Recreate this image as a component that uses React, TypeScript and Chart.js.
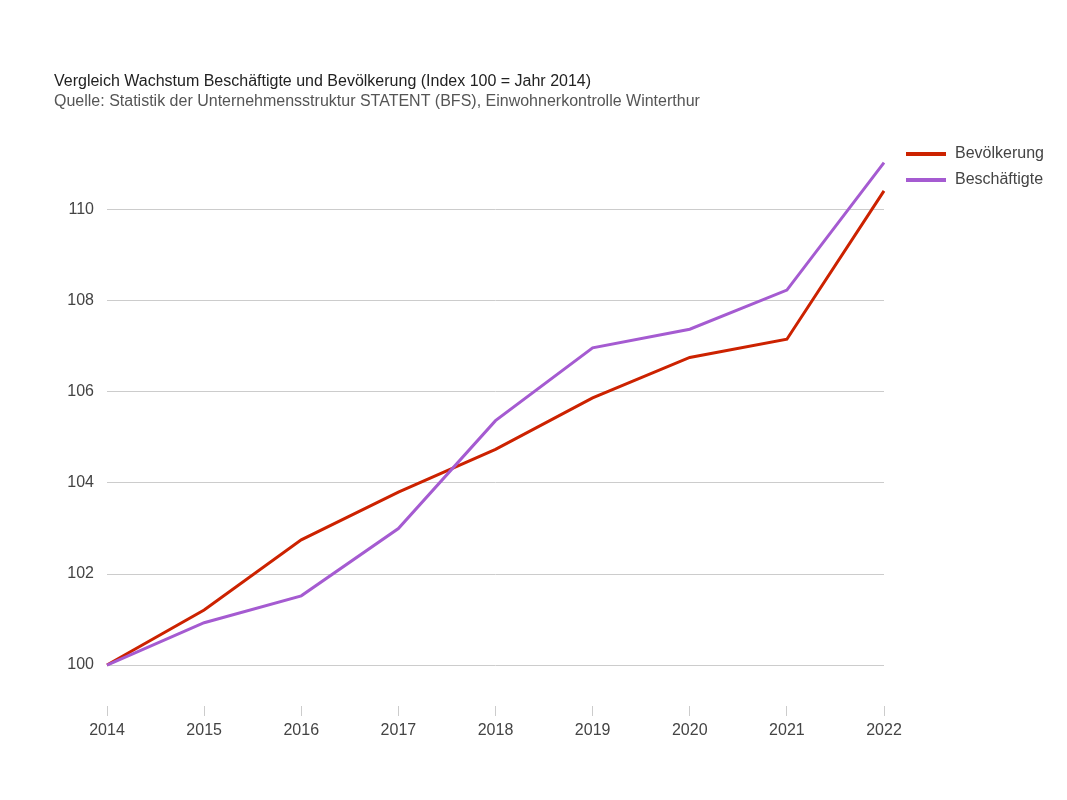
import { useEffect, useRef } from "react";
import { Chart, registerables } from "chart.js";

Chart.register(...registerables);

const years = ["2014", "2015", "2016", "2017", "2018", "2019", "2020", "2021", "2022"];
const bevoelkerung = [100, 101.21, 102.75, 103.8, 104.74, 105.87, 106.76, 107.16, 110.42];
const beschaeftigte = [100, 100.93, 101.52, 103.0, 105.37, 106.97, 107.38, 108.24, 111.04];
const yTicks = [100, 102, 104, 106, 108, 110];
const seriesLabels = ["Bevölkerung", "Beschäftigte"];
const seriesColors = ["#cc2200", "#a55bd1"];
const titleText = "Vergleich Wachstum Beschäftigte und Bevölkerung (Index 100 = Jahr 2014)";
const subtitleText = "Quelle: Statistik der Unternehmensstruktur STATENT (BFS), Einwohnerkontrolle Winterthur";

const FONT = "'Liberation Sans', Arial, sans-serif";

const sideLegend = {
  id: "sideLegend",
  afterDraw(chart: any) {
    const { ctx, chartArea } = chart;
    ctx.save();
    chart.data.datasets.forEach((ds: any, i: number) => {
      const y = chartArea.top + 20 + i * 26;
      const x0 = chartArea.right + 22;
      ctx.strokeStyle = ds.borderColor;
      ctx.lineWidth = 4;
      ctx.beginPath();
      ctx.moveTo(x0, y);
      ctx.lineTo(x0 + 40, y);
      ctx.stroke();
      ctx.fillStyle = "#444444";
      ctx.font = `16px ${FONT}`;
      ctx.textBaseline = "middle";
      ctx.textAlign = "left";
      ctx.fillText(ds.label, x0 + 49, y);
    });
    ctx.restore();
  },
};

export default function App() {
  const ref = useRef<HTMLCanvasElement>(null);

  useEffect(() => {
    if (!ref.current) return;
    Chart.defaults.font.family = FONT;
    const chart = new Chart(ref.current, {
      type: "line",
      data: {
        labels: years,
        datasets: [
          {
            label: seriesLabels[0],
            data: bevoelkerung,
            borderColor: seriesColors[0],
            backgroundColor: seriesColors[0],
            borderWidth: 3,
            pointRadius: 0,
            tension: 0,
            order: 1,
          },
          {
            label: seriesLabels[1],
            data: beschaeftigte,
            borderColor: seriesColors[1],
            backgroundColor: seriesColors[1],
            borderWidth: 3,
            pointRadius: 0,
            tension: 0,
            order: 0,
          },
        ],
      },
      options: {
        responsive: false,
        animation: false,
        layout: { padding: { left: 54, right: 183, top: 0, bottom: 0 } },
        plugins: {
          legend: { display: false },
          tooltip: { enabled: false },
          title: {
            display: true,
            text: titleText,
            align: "start",
            color: "#222222",
            font: { size: 16, weight: "normal", family: FONT },
            padding: { top: 72.4, bottom: 0.8 },
          },
          subtitle: {
            display: true,
            text: subtitleText,
            align: "start",
            color: "#555555",
            font: { size: 16, weight: "normal", family: FONT },
            padding: { top: 0, bottom: 22.4 },
          },
        },
        scales: {
          x: {
            grid: {
              display: true,
              drawOnChartArea: false,
              drawTicks: true,
              tickLength: 10,
              color: "#cccccc",
            },
            border: { display: false },
            ticks: { color: "#444444", font: { size: 16 }, padding: 5, maxRotation: 0 },
            afterFit(scale: any) {
              scale.height = 94;
            },
          },
          y: {
            min: 99.099,
            max: 111.67,
            grid: { color: "#cccccc", drawTicks: false },
            border: { display: false },
            ticks: { color: "#444444", font: { size: 16 }, padding: 13, },
            afterBuildTicks(scale: any) {
              scale.ticks = yTicks.map((v) => ({ value: v }));
            },
            afterFit(scale: any) {
              scale.width = 53;
            },
          },
        },
      },
      plugins: [sideLegend],
    });
    return () => chart.destroy();
  }, []);

  return (
    <div style={{ position: "fixed", left: 0, top: 0, width: 1067, height: 800, background: "#fff" }}>
      <canvas ref={ref} width={1067} height={800} />
    </div>
  );
}
